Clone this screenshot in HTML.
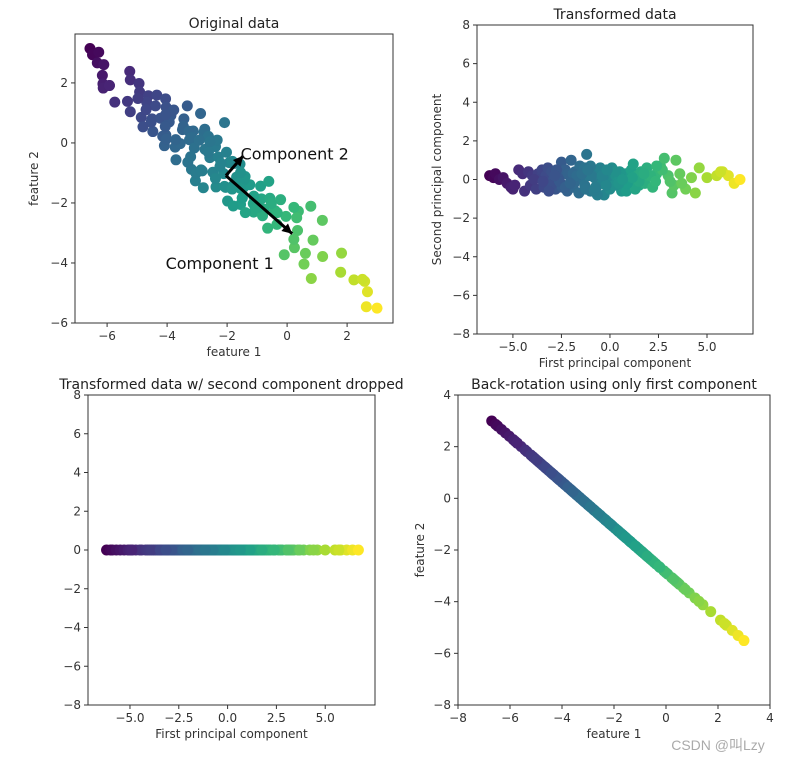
<!DOCTYPE html>
<html><head><meta charset="utf-8"><style>
body{margin:0;background:#fff;}
svg{display:block;font-family:"DejaVu Sans","Liberation Sans",sans-serif;}
</style></head><body>
<svg id="fig" width="788" height="763" viewBox="0 0 788 763">
<rect width="788" height="763" fill="#fff"/>
<text x="718" y="750" font-size="14" fill="#aaa" text-anchor="middle" font-family="Liberation Sans, Noto Sans CJK SC, sans-serif">CSDN @叫Lzy</text>
</svg>
<script>
// First principal component scores (estimated)
const pc1 = [-6.2,-6.0,-5.9,-5.7,-5.5,-5.3,-5.1,-5.0,-4.9,-4.7,-4.5,-4.4,-4.2,-4.1,-4.0,-3.8,-3.7,-3.6,-3.5,-3.4,-3.3,-3.2,-3.1,-3.0,-2.9,-2.8,-2.7,-2.6,-2.5,-2.4,-2.3,-2.2,-2.1,-2.0,-1.9,-1.8,-1.7,-1.6,-1.5,-1.4,-1.3,-1.2,-1.1,-1.0,-0.9,-0.8,-0.7,-0.6,-0.5,-0.4,-0.3,-0.2,-0.1,0.0,0.1,0.2,0.3,0.4,0.5,0.6,0.7,0.8,0.9,1.0,1.1,1.2,1.3,1.4,1.5,1.6,1.7,1.8,1.9,2.0,2.2,2.4,2.6,2.8,3.0,3.2,3.4,3.6,3.9,4.2,4.6,5.0,5.5,5.8,6.1,6.4,6.7,-3.05,-2.75,-2.45,-2.15,-1.85,-1.55,-1.25,-0.95,-0.65,-0.35,-0.05,0.25,0.55,0.85,-2.6,-1.9,-1.0,-0.2,0.5,1.3,2.1,2.7,3.3,-1.7,-0.8,0.3,1.5,-2.3,-1.3,-0.4,0.9,2.4,3.1,4.4,5.7,-4.9,-3.9,-3.45,-2.85,-2.05,-1.45,-0.75,-0.15,0.45,1.15,1.75,2.35,-3.15,-1.15,0.65,3.7];
// Second principal component scores (estimated)
const pc2 = [0.2,0.1,0.3,0.0,0.1,-0.2,-0.4,-0.5,-0.3,0.5,0.3,-0.6,0.4,-0.3,0.2,-0.5,0.3,0.1,0.5,-0.4,0.2,0.6,-0.2,0.4,0.0,-0.5,0.3,0.1,0.9,-0.3,0.5,-0.6,0.2,1.0,-0.4,0.4,0.1,-0.7,0.6,0.0,-0.3,1.3,0.2,-0.6,0.5,0.1,-0.4,0.3,0.6,-0.2,-0.8,0.4,0.0,-0.5,0.6,-0.3,0.2,-0.1,0.4,-0.6,0.1,0.3,-0.2,-0.4,0.5,0.8,-0.1,0.2,-0.3,0.4,0.0,-0.2,0.6,0.2,-0.4,0.3,0.7,1.1,0.2,-0.7,1.0,0.3,-0.5,0.1,0.6,0.1,0.2,0.4,0.2,-0.2,0.0,-0.3,0.5,-0.4,0.3,-0.2,0.7,-0.5,0.2,-0.8,0.1,0.5,-0.3,0.3,-0.6,-0.1,0.3,0.7,-0.3,0.1,-0.5,0.2,0.5,-0.3,0.2,-0.6,0.4,-0.1,-0.4,0.6,0.2,-0.2,0.7,-0.1,-0.7,0.4,-0.3,0.0,-0.1,0.2,-0.2,0.3,-0.4,0.5,-0.2,0.1,0.3,-0.1,-0.6,0.5,0.0,-0.2];
const meanX = -2.04, meanY = -1.09;
const v1 = [0.752,-0.659], v2 = [0.659,0.752];
const tickVals1x = [-6,-4,-2,0,2], tickVals1y = [-6,-4,-2,0,2];
const tickValsPCx = [-5,-2.5,0,2.5,5], tickLabsPCx = ["\u22125.0","\u22122.5","0.0","2.5","5.0"];
const tickValsPCy = [-8,-6,-4,-2,0,2,4,6,8];
const tickVals4x = [-8,-6,-4,-2,0,2,4], tickVals4y = [-8,-6,-4,-2,0,2,4];

const svg = document.getElementById('fig');
const NS='http://www.w3.org/2000/svg';
function mk(t,a,p){const e=document.createElementNS(NS,t);for(const k in a)e.setAttribute(k,a[k]);(p||svg).appendChild(e);return e;}
const vir=[[68,1,84],[72,40,120],[62,74,137],[49,104,142],[38,130,142],[31,158,137],[53,183,121],[110,206,88],[181,222,43],[253,231,37]];
function viridis(t){t=Math.max(0,Math.min(1,t))*9;const i=Math.min(8,Math.floor(t)),f=t-i;const a=vir[i],b=vir[i+1];return `rgb(${a.map((v,j)=>Math.round(v+(b[j]-v)*f)).join(',')})`;}
const pmin=Math.min(...pc1), pmax=Math.max(...pc1);
function fmt(v){return v<0?'\u2212'+Math.abs(v):String(v);}

function axes(o){
  const g=mk('g',{});
  
  
  const sx=v=>o.l+(v-o.x0)/(o.x1-o.x0)*(o.r-o.l);
  const sy=v=>o.b-(v-o.y0)/(o.y1-o.y0)*(o.b-o.t);
  const xs=o.xt, ys=o.yt;
  xs.forEach((v,i)=>{const x=sx(v);mk('line',{x1:x,x2:x,y1:o.b,y2:o.b+4,stroke:'#333'},g);
    const t=mk('text',{x:x,y:o.b+17,'font-size':12,fill:'#333','text-anchor':'middle'},g);t.textContent=o.xl?o.xl[i]:fmt(v);
    });
  ys.forEach(v=>{const y=sy(v);mk('line',{x1:o.l-4,x2:o.l,y1:y,y2:y,stroke:'#333'},g);
    const t=mk('text',{x:o.l-7,y:y+4,'font-size':12,fill:'#333','text-anchor':'end'},g);t.textContent=fmt(v);
    });
  const tt=mk('text',{x:(o.l+o.r)/2,y:o.t-6,'font-size':14,fill:'#222','text-anchor':'middle'},g);tt.textContent=o.title;
  
  if(o.xlab){const t=mk('text',{x:(o.l+o.r)/2,y:o.b+33,'font-size':12,fill:'#333','text-anchor':'middle'},g);t.textContent=o.xlab;
    }
  if(o.ylab){const cx=o.l-o.yoff,cy=(o.t+o.b)/2;const t=mk('text',{x:cx,y:cy,'font-size':12,fill:'#333','text-anchor':'middle',transform:`rotate(-90 ${cx} ${cy})`},g);t.textContent=o.ylab;
    }
  const pg=mk('g',{},g);
  o.pts.forEach(p=>{const c=mk('circle',{cx:sx(p[0]),cy:sy(p[1]),r:5.5,fill:viridis((p[2]-pmin)/(pmax-pmin))},pg);
    });
  mk('rect',{x:o.l,y:o.t,width:o.r-o.l,height:o.b-o.t,fill:'none',stroke:'#333','stroke-width':1},g);
  return {g,sx,sy};
}
const orig=pc1.map((a,i)=>[meanX+a*v1[0]+pc2[i]*v2[0],meanY+a*v1[1]+pc2[i]*v2[1],a]);
const tr=pc1.map((a,i)=>[a,pc2[i],a]);
const dr=pc1.map(a=>[a,0,a]);
const back=pc1.map(a=>[meanX+a*v1[0],meanY+a*v1[1],a]);

const A=axes({name:'original-data-plot',l:75,r:393,t:34,b:323,x0:-7.07,x1:3.53,y0:-6.0,y1:3.63,xt:tickVals1x,yt:tickVals1y,title:'Original data',xlab:'feature 1',ylab:'feature 2',yoff:37,pts:orig});
function arrow(g,x1,y1,x2,y2,name){const ln=mk('line',{x1,y1,x2,y2,stroke:'#000','stroke-width':3},g);
  
  const ang=Math.atan2(y2-y1,x2-x1),L=10,W=5;
  const bx=x2-L*Math.cos(ang),by=y2-L*Math.sin(ang);
  mk('polygon',{points:`${x2},${y2} ${bx+W*Math.sin(ang)},${by-W*Math.cos(ang)} ${bx-W*Math.sin(ang)},${by+W*Math.cos(ang)}`,fill:'#000'},g);}
arrow(A.g,A.sx(meanX),A.sy(meanY),A.sx(meanX+2.94*v1[0]),A.sy(meanY+2.94*v1[1]),'component-1-arrow');
arrow(A.g,A.sx(meanX),A.sy(meanY),A.sx(meanX+0.88*v2[0]),A.sy(meanY+0.88*v2[1]),'component-2-arrow');
let t=mk('text',{x:A.sx(-4.05),y:A.sy(-4.2),'font-size':16,fill:'#111'},A.g);t.textContent='Component 1';

t=mk('text',{x:A.sx(-1.55),y:A.sy(-0.55),'font-size':16,fill:'#111'},A.g);t.textContent='Component 2';


axes({name:'transformed-data-plot',l:477,r:753,t:25,b:334,x0:-6.85,x1:7.37,y0:-8,y1:8,xt:tickValsPCx,xl:tickLabsPCx,yt:tickValsPCy,title:'Transformed data',xlab:'First principal component',ylab:'Second principal component',yoff:36,pts:tr});
axes({name:'dropped-component-plot',l:88,r:375,t:395,b:705,x0:-7.15,x1:7.55,y0:-8,y1:8,xt:tickValsPCx,xl:tickLabsPCx,yt:tickValsPCy,title:'Transformed data w/ second component dropped',xlab:'First principal component',pts:dr});
axes({name:'back-rotation-plot',l:458,r:770,t:395,b:705,x0:-8,x1:4,y0:-8,y1:4,xt:tickVals4x,yt:tickVals4y,title:'Back-rotation using only first component',xlab:'feature 1',ylab:'feature 2',yoff:34,pts:back});
</script>
</body></html>
